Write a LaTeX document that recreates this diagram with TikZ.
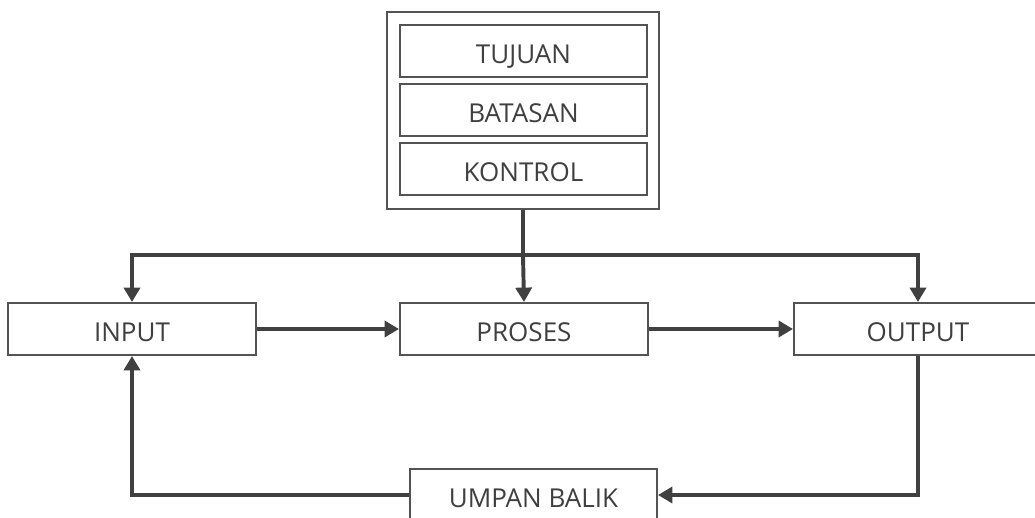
\documentclass[tikz,border=0pt]{standalone}
\usepackage{fontspec}
\setmainfont{Open Sans}
\usetikzlibrary{arrows.meta}
\definecolor{linegray}{HTML}{404040}
\definecolor{textgray}{HTML}{3F3F3F}
\begin{document}
\begin{tikzpicture}[x=0.025cm,y=-0.025cm,
        box/.style={draw=linegray!90,line width=1.4pt,fill=white,inner sep=0pt,
            minimum width=6.2cm,minimum height=1.3cm,text=textgray,
            text height=18pt,text depth=0.6pt,
            font=\fontsize{18.5}{22}\selectfont},
        link/.style={draw=linegray,line width=2.8pt},
        flow/.style={link,-{Triangle[width=0.4cm,length=0.36cm]}}]
        \useasboundingbox (0,0) rectangle (1035,518);
        \clip (0,0) rectangle (1035,518);

        % goal, limits and control
        \node[box,minimum width=6.8cm,minimum height=4.925cm] (frame) at (523,110.5) {};
        \node[box,minimum width=6.175cm] (tujuan) at (523.5,51) {TUJUAN};
        \node[box,minimum width=6.175cm] (batasan) at (523.5,110) {BATASAN};
        \node[box,minimum width=6.175cm] (kontrol) at (523.5,169) {KONTROL};

        % main flow
        \node[box] (input) at (132,329) {INPUT};
        \node[box] (proses) at (524,329) {PROSES};
        \node[box] (output) at (918,329) {OUTPUT};
        \node[box,minimum width=6.175cm] (umpan) at (533.5,495) {UMPAN BALIK};

        % control lines
        \coordinate (trunk) at (frame.south |- 0,255);
        \draw[link] (frame.south) -- (trunk);
        \draw[flow] (trunk) -- (proses.north);
        \draw[flow] (trunk) -| (input.north);
        \draw[flow] (trunk) -| (output.north);

        \draw[flow] (input.east) -- (proses.west);
        \draw[flow] (proses.east) -- (output.west);

        % feedback
        \draw[flow] (output.south) |- (umpan.east);
        \draw[flow] (umpan.west) -| (input.south);
\end{tikzpicture}
\end{document}
